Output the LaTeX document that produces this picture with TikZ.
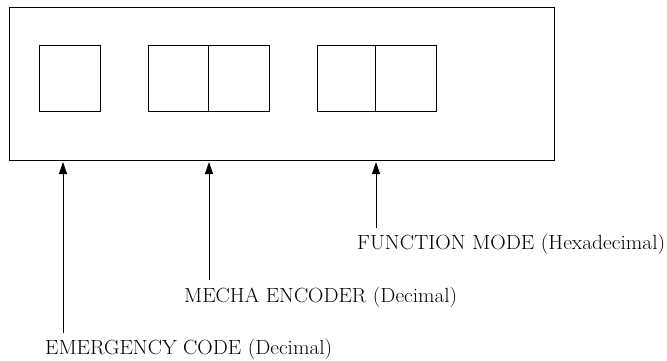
\documentclass[tikz,border=0pt]{standalone}
\usepackage{graphicx}
\usetikzlibrary{arrows.meta}
\newcommand{\lbltext}[2]{\resizebox{#1}{\height}{\fontsize{20.5}{24}\selectfont #2}}
\begin{document}
\begin{tikzpicture}[x=1pt,y=-1pt,
  box/.style={draw,line width=1pt,inner sep=0pt,minimum height=65pt},
  lbl/.style={anchor=base west,inner sep=0pt},
  pointer/.style={line width=1pt,-{Triangle[length=12pt,width=8pt]},shorten >=1.5pt}]
\useasboundingbox (0,0) rectangle (667,361);
\node[draw,line width=1pt,inner sep=0pt,minimum width=545pt,minimum height=152pt] (outer) at (281.5,84) {};
\node[box,minimum width=61pt] (b1) at (69.5,78.5) {};
\node[box,minimum width=60pt] (b2a) at (178,78.5) {};
\node[box,minimum width=61pt] (b2b) at (238.5,78.5) {};
\node[box,minimum width=58pt] (b3a) at (346,78.5) {};
\node[box,minimum width=61pt] (b3b) at (405.5,78.5) {};
\node[lbl] (l3) at (357,249) {\lbltext{308pt}{FUNCTION MODE (Hexadecimal)}};
\node[lbl] (l2) at (184,302) {\lbltext{273pt}{MECHA ENCODER (Decimal)}};
\node[lbl] (l1) at (45,354) {\lbltext{287pt}{EMERGENCY CODE (Decimal)}};
\coordinate (a1) at (63,333);
\coordinate (a2) at (209,280);
\coordinate (a3) at (376,228);
\draw[pointer] (a1) -- (a1 |- outer.south);
\draw[pointer] (a2) -- (a2 |- outer.south);
\draw[pointer] (a3) -- (a3 |- outer.south);
\end{tikzpicture}
\end{document}
